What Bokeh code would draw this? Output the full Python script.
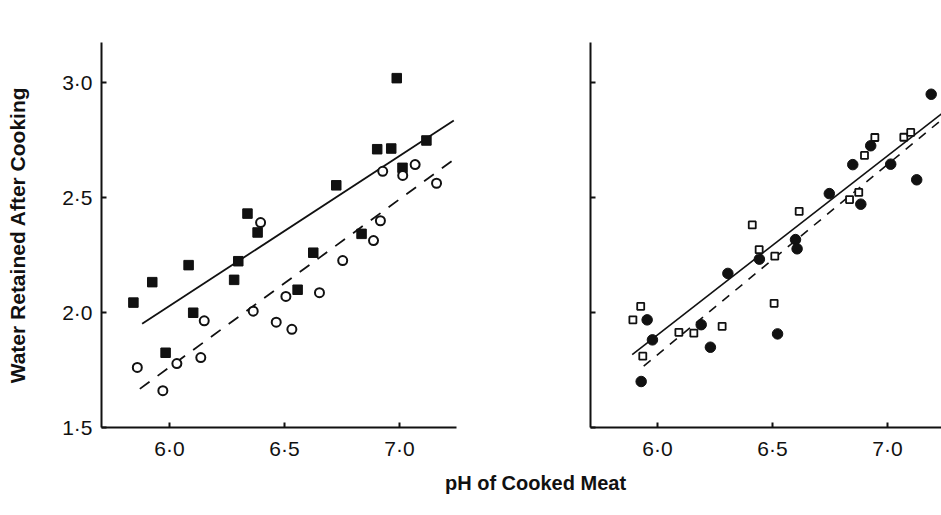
from bokeh.plotting import figure
from bokeh.layouts import column, row
from bokeh.models import FixedTicker, Label, Range1d
from bokeh.embed import file_html
from bokeh.resources import INLINE

# ---------------- data ----------------
# Left panel: filled squares
left_sq_x = [5.843, 5.925, 6.083, 5.983, 6.103, 6.281, 6.299, 6.339, 6.383,
             6.557, 6.625, 6.725, 6.835, 6.903, 6.964, 6.988, 7.013, 7.117]
left_sq_y = [2.043, 2.132, 2.206, 1.825, 1.999, 2.142, 2.223, 2.430, 2.348,
             2.099, 2.260, 2.553, 2.342, 2.710, 2.713, 3.019, 2.629, 2.748]
# Left panel: open circles
left_ci_x = [5.860, 5.971, 6.032, 6.136, 6.151, 6.364, 6.396, 6.464, 6.506,
             6.532, 6.652, 6.753, 6.887, 6.917, 6.927, 7.014, 7.068, 7.161]
left_ci_y = [1.761, 1.660, 1.778, 1.804, 1.964, 2.006, 2.391, 1.958, 2.070,
             1.927, 2.086, 2.226, 2.313, 2.399, 2.614, 2.596, 2.643, 2.562]
# Left panel regression lines
left_solid_x = [5.881, 7.236]
left_solid_y = [1.951, 2.835]
left_dash_x = [5.871, 7.239]
left_dash_y = [1.668, 2.667]

# Right panel: open squares
right_sq_x = [5.893, 5.927, 5.936, 6.093, 6.158, 6.281, 6.412, 6.442, 6.507,
              6.510, 6.616, 6.835, 6.875, 6.900, 6.945, 7.071, 7.101]
right_sq_y = [1.968, 2.027, 1.810, 1.914, 1.910, 1.940, 2.381, 2.273, 2.040,
              2.245, 2.440, 2.491, 2.522, 2.683, 2.761, 2.762, 2.783]
# Right panel: filled circles
right_ci_x = [5.929, 5.955, 5.978, 6.190, 6.230, 6.306, 6.443, 6.522, 6.600,
              6.607, 6.747, 6.849, 6.884, 6.927, 7.014, 7.127, 7.190]
right_ci_y = [1.700, 1.968, 1.881, 1.947, 1.849, 2.170, 2.232, 1.907, 2.317,
              2.277, 2.517, 2.643, 2.471, 2.725, 2.645, 2.577, 2.949]
# Right panel regression lines
right_solid_x = [5.890, 7.235]
right_solid_y = [1.817, 2.864]
right_dash_x = [5.940, 7.235]
right_dash_y = [1.767, 2.838]

x_ticks = [6.0, 6.5, 7.0]
x_tick_labels = ["6·0", "6·5", "7·0"]
y_ticks = [1.5, 2.0, 2.5, 3.0]
y_tick_labels = ["1·5", "2·0", "2·5", "3·0"]

y_title = "Water Retained After Cooking"
x_title = "pH of Cooked Meat"

FONT = "Liberation Sans"
INK = "#111111"


def style_axes(p, show_y_labels):
    p.outline_line_color = None
    p.grid.visible = False
    p.background_fill_color = "white"
    p.border_fill_color = "white"
    for ax in (p.xaxis[0], p.yaxis[0]):
        ax.axis_line_width = 2
        ax.axis_line_color = INK
        ax.major_tick_line_width = 2
        ax.major_tick_line_color = INK
        ax.major_tick_in = 5
        ax.major_tick_out = 0
        ax.minor_tick_line_color = None
        ax.major_label_text_font = FONT
        ax.major_label_text_font_size = "21px"
        ax.major_label_text_color = INK
        ax.major_label_standoff = 9
    p.xaxis.ticker = FixedTicker(ticks=x_ticks)
    p.xaxis.major_label_overrides = dict(zip(x_ticks, x_tick_labels))
    p.yaxis.ticker = FixedTicker(ticks=y_ticks)
    if show_y_labels:
        p.yaxis.major_label_overrides = dict(zip(y_ticks, y_tick_labels))
    else:
        p.yaxis.major_label_overrides = {t: "" for t in y_ticks}


# ---------------- left panel ----------------
p1 = figure(frame_width=355, frame_height=385,
            min_border_left=101, min_border_right=64,
            min_border_top=42, min_border_bottom=43,
            x_range=Range1d(5.7043, 7.2478), y_range=Range1d(1.5, 3.174),
            output_backend="svg", toolbar_location=None)
style_axes(p1, True)
p1.yaxis.axis_label = y_title
p1.yaxis.axis_label_text_font = FONT
p1.yaxis.axis_label_text_font_style = "bold"
p1.yaxis.axis_label_text_font_size = "21px"
p1.yaxis.axis_label_text_color = INK
p1.yaxis.axis_label_standoff = 30

p1.line(left_solid_x, left_solid_y, line_color=INK, line_width=1.8)
p1.line(left_dash_x, left_dash_y, line_color=INK, line_width=1.8, line_dash="12 10")
p1.scatter(left_sq_x, left_sq_y, marker="square", size=9.5,
           fill_color=INK, line_color=INK, line_width=1)
p1.scatter(left_ci_x, left_ci_y, marker="circle", size=9,
           fill_color="white", line_color=INK, line_width=2)

# ---------------- right panel ----------------
p2 = figure(frame_width=351, frame_height=385,
            min_border_left=70, min_border_right=0,
            min_border_top=42, min_border_bottom=43,
            x_range=Range1d(5.7087, 7.2348), y_range=Range1d(1.5, 3.174),
            output_backend="svg", toolbar_location=None)
style_axes(p2, False)

p2.line(right_solid_x, right_solid_y, line_color=INK, line_width=1.6)
p2.line(right_dash_x, right_dash_y, line_color=INK, line_width=1.6, line_dash="9 8")
p2.scatter(right_sq_x, right_sq_y, marker="square", size=7,
           fill_color="white", line_color=INK, line_width=1.8)
p2.scatter(right_ci_x, right_ci_y, marker="circle", size=10.5,
           fill_color=INK, line_color=INK, line_width=1)

# ---------------- shared x title ----------------
p3 = figure(frame_width=941, frame_height=35, min_border=0,
            x_range=Range1d(0, 941), y_range=Range1d(0, 35),
            output_backend="svg", toolbar_location=None)
p3.axis.visible = False
p3.grid.visible = False
p3.outline_line_color = None
p3.add_layout(Label(x=535, y=23, text=x_title, text_align="center",
                    text_baseline="middle", text_font=FONT,
                    text_font_style="bold", text_font_size="20px",
                    text_color=INK))

layout = column(row(p1, p2, spacing=0), p3, spacing=0)

open("out.html", "w").write(file_html(layout, INLINE))
